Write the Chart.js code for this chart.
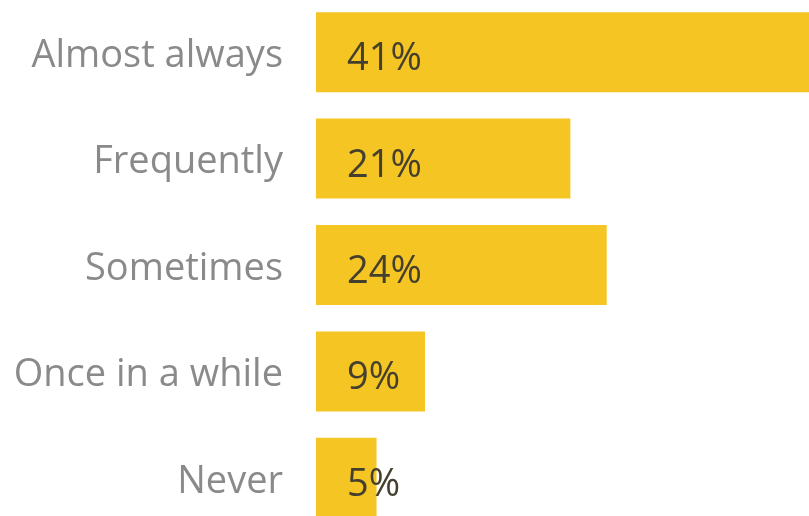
<!DOCTYPE html>
<html>
<head>
<meta charset="utf-8">
<script src="https://cdn.jsdelivr.net/npm/chart.js@4/dist/chart.umd.min.js"></script>
<style>
  html, body { margin: 0; padding: 0; background: #ffffff; overflow: hidden; }
  #c { position: absolute; left: 0; top: -1px; }
</style>
</head>
<body>
<canvas id="c" width="809" height="532"></canvas>
<script>
const categories = ['Almost always', 'Frequently', 'Sometimes', 'Once in a while', 'Never'];
const shares = [41, 21, 24, 9, 5];
const valueLabels = ['41%', '21%', '24%', '9%', '5%'];

const FONT = '"Open Sans", "Liberation Sans", sans-serif';

// Writes each bar's percentage just inside its base
const barValueLabels = {
  id: 'barValueLabels',
  afterDatasetsDraw(chart) {
    const ctx = chart.ctx;
    const meta = chart.getDatasetMeta(0);
    ctx.save();
    ctx.font = '38px ' + FONT;
    ctx.fillStyle = '#45402e';
    ctx.textAlign = 'left';
    ctx.textBaseline = 'alphabetic';
    meta.data.forEach((bar, i) => {
      ctx.fillText(valueLabels[i], bar.base + 31, bar.y + 18);
    });
    ctx.restore();
  }
};

new Chart(document.getElementById('c'), {
  type: 'bar',
  data: {
    labels: categories,
    datasets: [{
      data: shares,
      backgroundColor: '#f5c524',
      borderWidth: 0,
      barPercentage: 0.752,
      categoryPercentage: 1.0
    }]
  },
  options: {
    indexAxis: 'y',
    responsive: false,
    animation: false,
    layout: { padding: 0 },
    plugins: { legend: { display: false }, tooltip: { enabled: false } },
    scales: {
      x: {
        display: false,
        min: 0,
        max: 40.7
      },
      y: {
        grid: { display: false, drawTicks: false },
        border: { display: false },
        ticks: {
          color: '#8a8a8a',
          font: { family: FONT, size: 38 },
          padding: 33,
          labelOffset: 4
        },
        afterFit(scale) {
          scale.width = 316;
          scale.paddingTop = 0;
          scale.paddingBottom = 0;
        }
      }
    }
  },
  plugins: [barValueLabels]
});
</script>
</body>
</html>
